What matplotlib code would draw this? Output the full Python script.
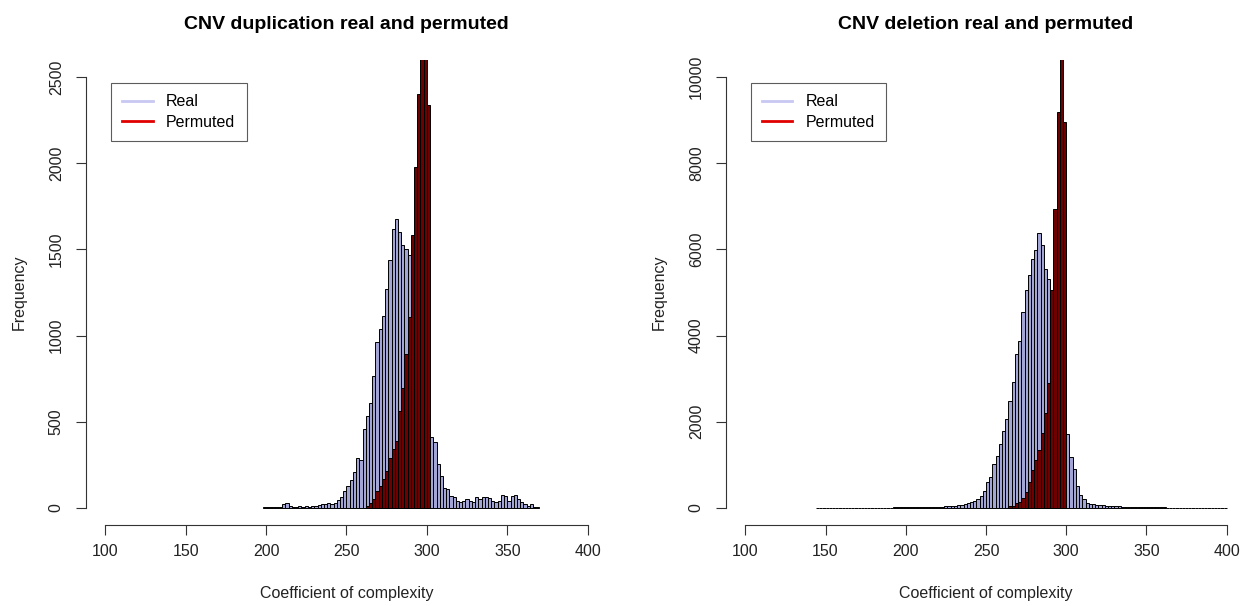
import matplotlib
matplotlib.use("Agg")
import matplotlib.pyplot as plt
import numpy as np
from matplotlib.lines import Line2D

plt.rcParams['font.family'] = ['Liberation Sans', 'DejaVu Sans']

BIN_WIDTH = 2

# ---- Left panel: CNV duplication ----
dup_real_start = 198
dup_real = [4, 3, 2, 3, 2, 5, 20, 27, 8, 5, 3, 10, 4, 8, 5, 12, 10, 18, 22, 22,
            25, 21, 30, 45, 65, 95, 125, 160, 210, 290, 280, 455, 535, 606, 767, 961,
            1039, 1116, 1271, 1436, 1620, 1678, 1600, 1523, 1504, 1465, 1426, 1400, 1350, 1300,
            1200, 541, 409, 380, 254, 186, 114, 108, 70, 60, 41, 31, 41, 50, 41, 31,
            60, 50, 64, 64, 54, 41, 31, 41, 74, 70, 41, 66, 74, 50, 31, 21, 12, 21, 4, 3]
dup_perm_start = 262
dup_perm = [10, 27, 50, 99, 128, 167, 215, 291, 340, 388, 562, 698, 892, 1106, 1581,
            1979, 2405, 2900, 2900, 2337]

# ---- Right panel: CNV deletion ----
del_real_start = 144
del_real = [2, 2, 3, 2, 3, 2, 2, 3, 2, 3,                 # 144-162
            3, 4, 3, 4, 3, 4, 5, 4, 5, 5,                 # 164-182
            6, 5, 6, 6, 7, 8, 8, 9, 10, 11,               # 184-202
            12, 13, 14, 15, 17, 18, 20, 22, 25, 28,       # 204-222
            32, 36, 40, 50, 60, 70, 90, 110, 130, 160,    # 224-242
            200, 279, 395, 589, 705, 1016, 1210, 1481, 1791, 2063,   # 244-262
            2489, 2916, 3575, 3885, 4544, 5048, 5397, 5785, 5979, 6382,  # 264-282
            6100, 5552, 5319, 4893, 4500, 4000, 3500, 3000, 1714, 1171,  # 284-302
            899, 512, 300, 200, 120, 90, 80, 70, 60, 55,  # 304-322
            50, 45, 40, 35, 30, 28, 25, 22, 20, 18,       # 324-342
            16, 15, 13, 12, 11, 10, 9, 8, 7, 6,           # 344-362
            6, 5, 5, 4, 4, 4, 3, 3, 3, 2,                 # 364-382
            2, 2, 2, 2, 1, 1, 1, 1]                       # 384-398
del_perm_start = 264
del_perm = [30, 50, 100, 140, 217, 372, 605, 876, 1109, 1342, 1730, 2196, 2893,
            5047, 6947, 9195, 10600, 8963]

titles = ["CNV duplication real and permuted", "CNV deletion real and permuted"]
xlabel = "Coefficient of complexity"
ylabel = "Frequency"
legend_labels = ["Real", "Permuted"]
x_ticks = [100, 150, 200, 250, 300, 350, 400]
y_ticks_left = [0, 500, 1000, 1500, 2000, 2500]
y_ticks_right = [0, 2000, 4000, 6000, 8000, 10000]

REAL_COL = "#a3a6d4"
PERM_COL = "#6e0000"
REAL_LEG = "#c8c8f2"
PERM_LEG = "#e00000"
FS = 11.5

W, H = 1252, 606
fig = plt.figure(figsize=(W / 100, H / 100), dpi=100)


def px_axes(x0, x1, y0, y1):
    return fig.add_axes([x0 / W, 1 - y1 / H, (x1 - x0) / W, (y1 - y0) / H])


def panel(ax, real_start, real, perm_start, perm, yticks, ytop, title):
    rx = real_start + BIN_WIDTH * np.arange(len(real))
    px = perm_start + BIN_WIDTH * np.arange(len(perm))
    ax.bar(rx, real, width=BIN_WIDTH, align='edge', color=REAL_COL,
           edgecolor='black', linewidth=0.7)
    ax.bar(px, perm, width=BIN_WIDTH, align='edge', color=PERM_COL,
           edgecolor='black', linewidth=0.7)
    ax.set_xlim(88, 412)
    ax.set_ylim(-0.04 * ytop, 1.04 * ytop)
    for s in ['top', 'right']:
        ax.spines[s].set_visible(False)
    ax.spines['left'].set_bounds(0, ytop)
    ax.spines['bottom'].set_bounds(100, 400)
    ax.set_xticks(x_ticks)
    ax.set_yticks(yticks)
    ax.set_yticklabels([str(t) for t in yticks], rotation=90, va='center')
    ax.tick_params(direction='out', length=7, width=0.8, labelsize=FS,
                   color='#333333', labelcolor='#222222')
    ax.tick_params(axis='x', pad=7)
    ax.tick_params(axis='y', pad=9)
    for s in ['left', 'bottom']:
        ax.spines[s].set_linewidth(0.8)
        ax.spines[s].set_color('#333333')
    ax.set_xlabel(xlabel, fontsize=FS, labelpad=19, color='#222222')
    ax.set_ylabel(ylabel, fontsize=FS, labelpad=16, color='#222222')
    ax.set_title(title, fontsize=14, fontweight='bold', pad=22)
    handles = [Line2D([], [], color=REAL_LEG, lw=2),
               Line2D([], [], color=PERM_LEG, lw=2)]
    leg = ax.legend(handles, legend_labels, loc='upper left',
                    bbox_to_anchor=((111 - 86) / 521, 1 - (83 - 60) / 465),
                    borderaxespad=0, fontsize=FS, frameon=True,
                    fancybox=False, edgecolor='#333333', handlelength=1.9,
                    handletextpad=0.85, borderpad=0.7, labelspacing=0.35)
    leg.get_frame().set_linewidth(0.8)


axL = px_axes(86, 607, 60, 525)
panel(axL, dup_real_start, dup_real, dup_perm_start, dup_perm,
      y_ticks_left, 2500, titles[0])
axR = px_axes(726, 1246, 60, 525)
panel(axR, del_real_start, del_real, del_perm_start, del_perm,
      y_ticks_right, 10000, titles[1])

fig.savefig("out.png", dpi=100)
